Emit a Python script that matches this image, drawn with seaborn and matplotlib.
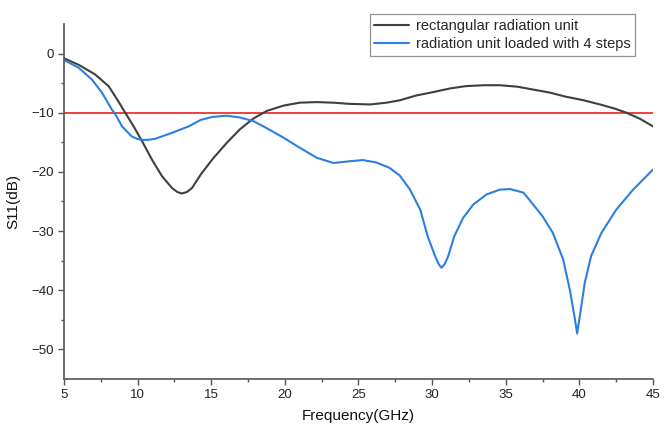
import numpy as np
import pandas as pd
import matplotlib
matplotlib.use("Agg")
import matplotlib.pyplot as plt
import seaborn as sns

# Frequency (GHz) and S11 (dB)
rect_freq = [5.0, 5.09, 6.0, 7.1, 8.03, 8.7, 9.16, 9.73, 10.3, 10.97, 11.65, 12.33, 12.7, 13.0, 13.35, 13.7,
             14.3, 15.1, 16.05, 16.95, 17.85, 18.76, 19.9, 21.0, 22.16, 23.3, 24.4, 25.8, 26.9,
             27.8, 28.9, 30.1, 31.2, 32.3, 33.5, 34.6, 35.8, 36.9, 38.0, 39.1, 40.3, 41.4, 42.4,
             43.2, 44.1, 45.0]
rect_s11 = [-0.8, -0.9, -1.9, -3.5, -5.5, -8.1, -10.0, -12.3, -14.8, -17.9, -20.7, -22.7, -23.4, -23.65, -23.4, -22.7,
            -20.4, -17.8, -15.1, -12.8, -11.0, -9.7, -8.8, -8.3, -8.2, -8.3, -8.5, -8.6, -8.3,
            -7.9, -7.1, -6.5, -5.9, -5.5, -5.35, -5.35, -5.6, -6.1, -6.6, -7.3, -7.9, -8.6, -9.3,
            -10.0, -11.0, -12.3]

step_freq = [5.0, 5.09, 6.0, 6.9, 7.58, 8.26, 8.5, 8.94, 9.6, 10.0, 10.4, 10.8, 11.2, 12.33, 13.47, 14.3,
             15.1, 16.05, 16.95, 17.85, 18.76, 19.9, 21.0, 22.16, 23.3, 24.4, 25.3, 26.2, 27.1,
             27.8, 28.5, 29.2, 29.7, 30.2, 30.45, 30.64, 30.85, 31.1, 31.5, 32.1, 32.8, 33.7, 34.6, 35.3, 36.2,
             36.6, 37.5, 38.2, 38.9, 39.35, 39.7, 39.85, 40.03, 40.37, 40.8, 41.5, 42.5, 43.65, 45.0]
step_s11 = [-1.0, -1.2, -2.4, -4.4, -6.6, -9.5, -10.3, -12.3, -14.0, -14.45, -14.6, -14.55, -14.4, -13.4, -12.3, -11.2,
            -10.7, -10.5, -10.8, -11.4, -12.6, -14.2, -15.9, -17.6, -18.5, -18.2, -18.0, -18.4, -19.3,
            -20.6, -23.0, -26.4, -30.9, -34.2, -35.6, -36.2, -35.6, -34.2, -30.9, -27.8, -25.5, -23.8, -23.0, -22.9, -23.5,
            -24.7, -27.5, -30.3, -34.8, -39.9, -44.9, -47.3, -44.4, -38.7, -34.2, -30.3, -26.4, -23.0, -19.6]

labels = ["rectangular radiation unit", "radiation unit loaded with 4 steps"]
threshold = -10
x_ticks = [5, 10, 15, 20, 25, 30, 35, 40, 45]
y_ticks = [0, -10, -20, -30, -40, -50]

df = pd.concat([
    pd.DataFrame({"Frequency": rect_freq, "S11": rect_s11, "Antenna": labels[0]}),
    pd.DataFrame({"Frequency": step_freq, "S11": step_s11, "Antenna": labels[1]}),
], ignore_index=True)

sns.set_theme(style="ticks")
plt.rcParams["font.family"] = ["Liberation Sans", "DejaVu Sans"]

fig = plt.figure(figsize=(6.72, 4.33), dpi=100)
ax = fig.add_axes([0.0952, 0.1247, 0.8765, 0.8199])

ax.axhline(threshold, color="#ee4040", lw=1.4, zorder=1)
sns.lineplot(data=df, x="Frequency", y="S11", hue="Antenna", hue_order=labels,
             palette=["#3f3f3f", "#2c7fe0"], lw=1.5, ax=ax, sort=False, estimator=None)
for line in ax.get_lines():
    line.set_solid_joinstyle("round")

ax.set_xlim(5, 45)
ax.set_ylim(-55, 5)
ax.set_xticks(x_ticks)
ax.set_yticks(y_ticks)
ax.set_xticks(np.arange(7.5, 45, 5), minor=True)
ax.set_yticks(np.arange(-45, 5, 10), minor=True)
ax.tick_params(axis="both", which="major", direction="out", length=4, width=1.0,
               color="#555555", labelsize=9.5, labelcolor="#222222", pad=3)
ax.tick_params(axis="both", which="minor", direction="out", length=2.5, width=1.0, color="#555555")
for s in ["top", "right"]:
    ax.spines[s].set_visible(False)
for s in ["left", "bottom"]:
    ax.spines[s].set_color("#555555")
    ax.spines[s].set_linewidth(1.2)

ax.set_xlabel("Frequency(GHz)", fontsize=11, color="#111111", labelpad=6)
ax.set_ylabel("S11(dB)", fontsize=11, color="#111111", labelpad=8)

leg = ax.legend(loc="upper right", bbox_to_anchor=(0.975, 1.035), fontsize=10.5,
                frameon=True, fancybox=False, edgecolor="#777777", handlelength=2.4,
                handletextpad=0.5, borderpad=0.3, labelspacing=0.3, borderaxespad=0.2)
leg.get_frame().set_linewidth(0.9)
leg.set_title(None)

fig.savefig("out.png", dpi=100)
